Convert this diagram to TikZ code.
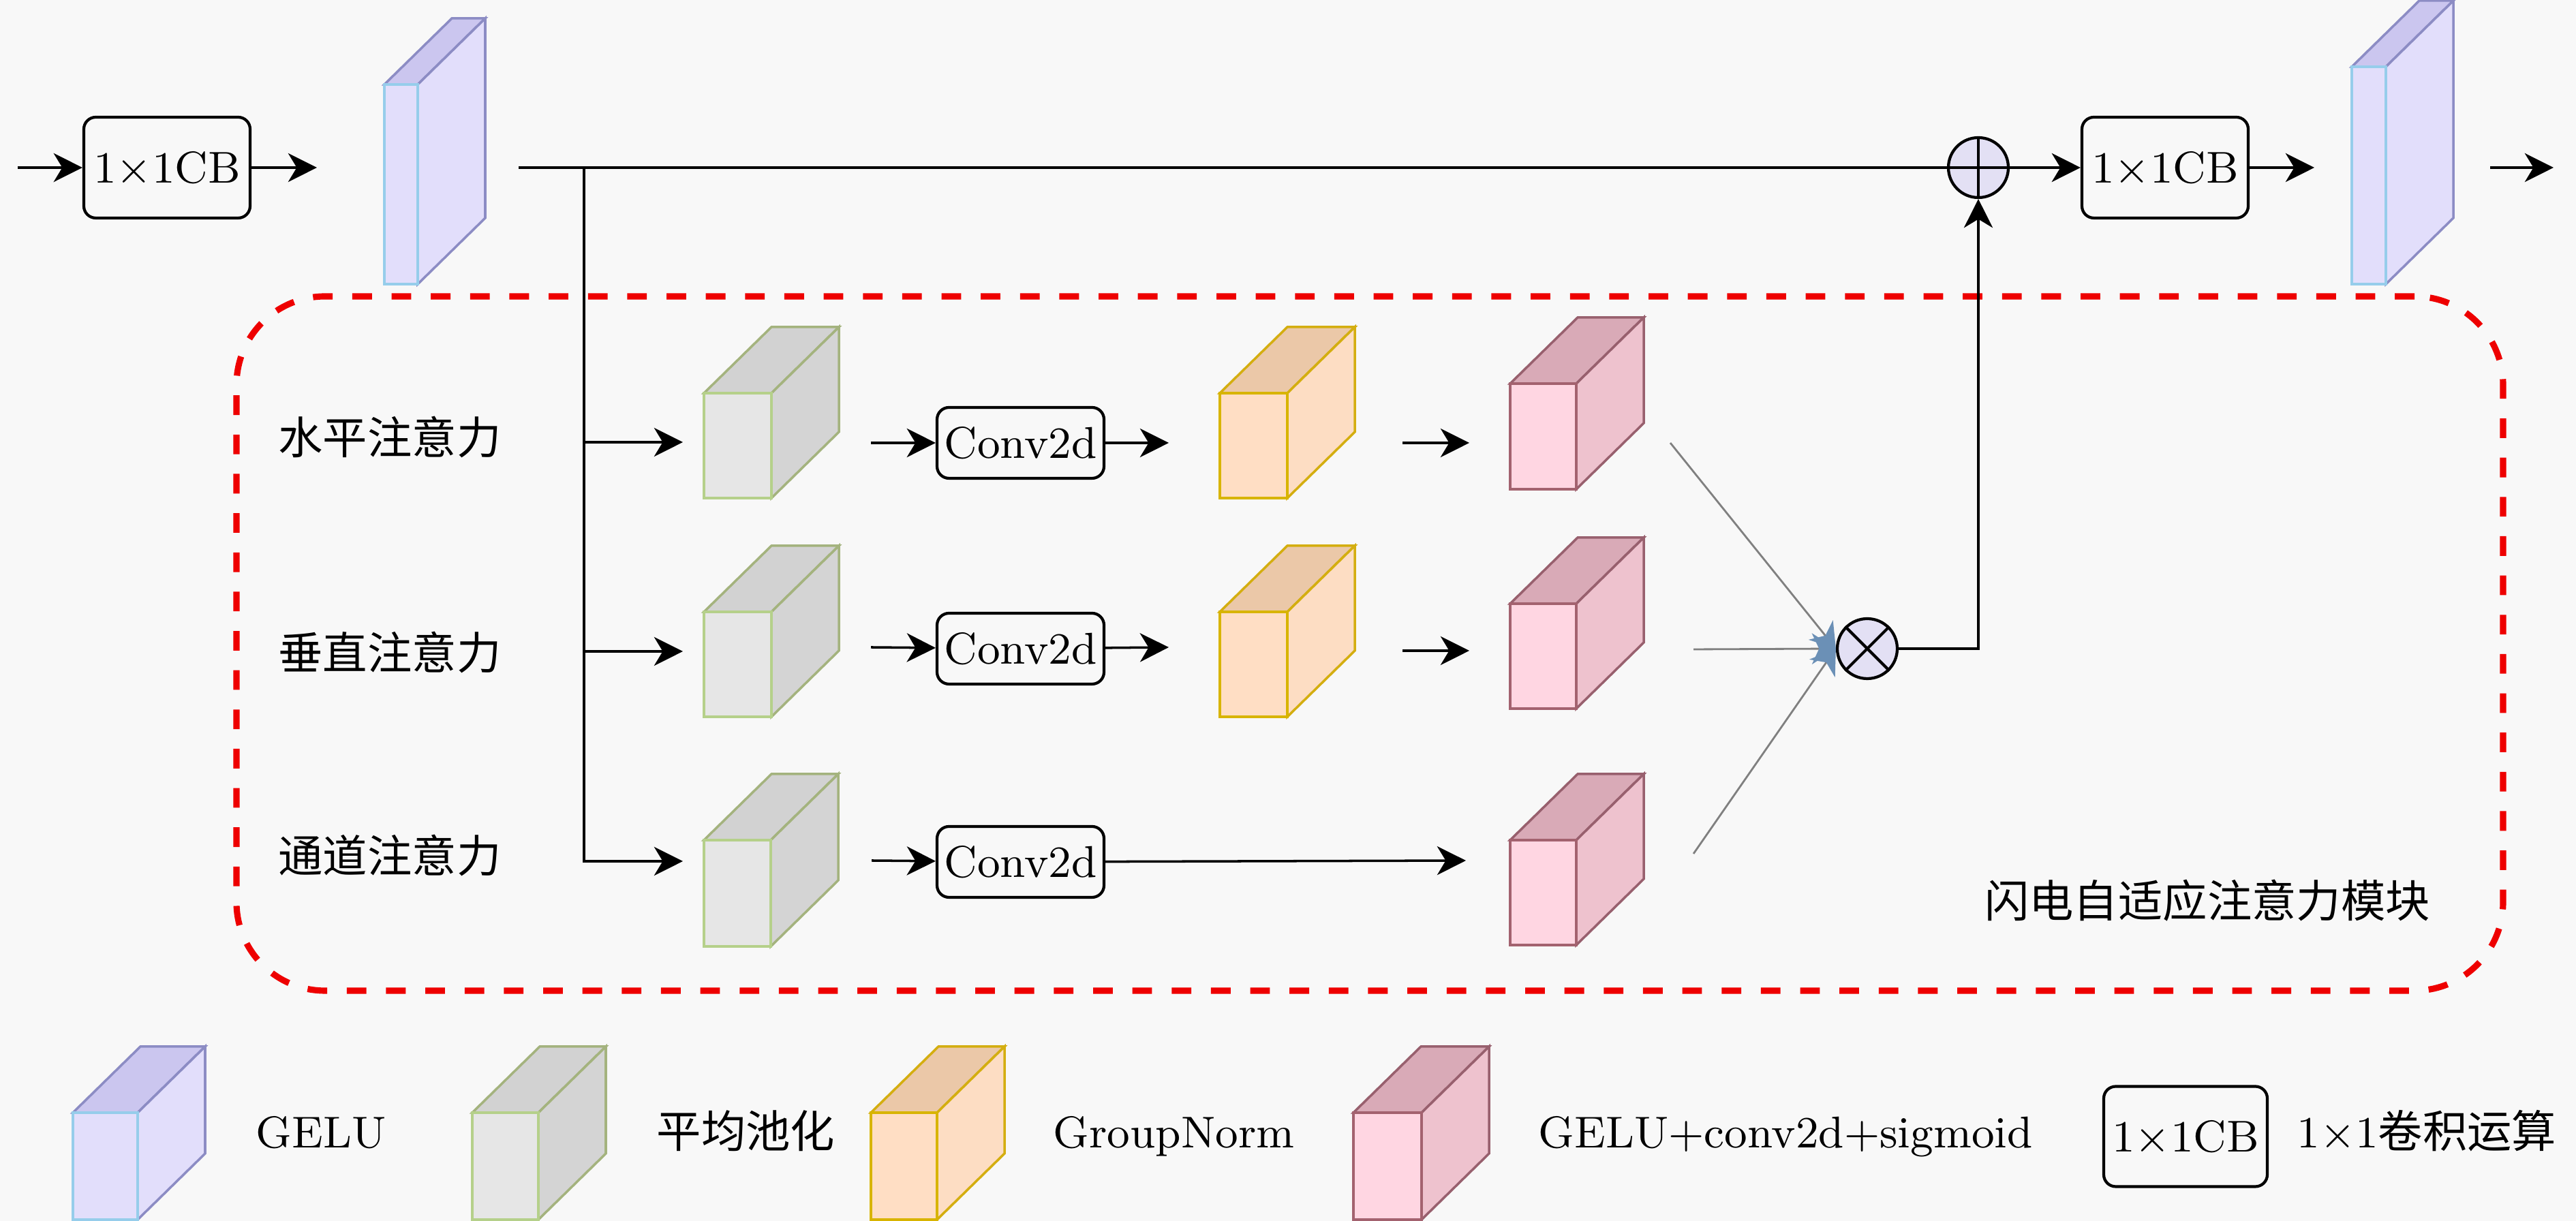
\documentclass[tikz,border=0pt]{standalone}
\usepackage{fontspec}
\newfontfamily\cjk{Noto Sans CJK SC}
\usetikzlibrary{arrows.meta}
\definecolor{bgcol}{HTML}{F8F8F8}
\definecolor{sumfill}{HTML}{E3E0F4}
\definecolor{tipblue}{HTML}{6B90B6}
\definecolor{linegray}{HTML}{808080}
\definecolor{modred}{HTML}{EE0000}
% cube colours: F front, S side, T top, E outer edge, L front edge
\definecolor{geluF}{HTML}{E2DEFB}
\definecolor{geluS}{HTML}{E2DEFB}
\definecolor{geluT}{HTML}{CBC6EF}
\definecolor{geluE}{HTML}{8C8CC4}
\definecolor{geluL}{HTML}{96CDEB}
\definecolor{poolF}{HTML}{E6E6E6}
\definecolor{poolS}{HTML}{D4D4D4}
\definecolor{poolT}{HTML}{D2D2D2}
\definecolor{poolE}{HTML}{A4B37E}
\definecolor{poolL}{HTML}{B5D08A}
\definecolor{gnF}{HTML}{FFDEC4}
\definecolor{gnS}{HTML}{FDDDC3}
\definecolor{gnT}{HTML}{EBC8A8}
\definecolor{gnE}{HTML}{D4AE10}
\definecolor{gnL}{HTML}{D8B400}
\definecolor{actF}{HTML}{FFD6E2}
\definecolor{actS}{HTML}{EEC2CE}
\definecolor{actT}{HTML}{D9AAB7}
\definecolor{actE}{HTML}{98606E}
\definecolor{actL}{HTML}{A3626F}

% feature map: name, front top-left x, y, width, height, colour set
\newcommand{\fmap}[6]{%
  \filldraw[draw=#6E, fill=#6T, line width=0.5pt] (#2,#3) -- ++(0.99,-0.97) -- ++(#4,0) -- ++(-0.99,0.97) -- cycle;
  \filldraw[draw=#6E, fill=#6S, line width=0.5pt] (#2+#4,#3) -- ++(0.99,-0.97) -- ++(0,#5) -- ++(-0.99,0.97) -- cycle;
  \filldraw[draw=#6L, fill=#6F, line width=0.5pt] (#2,#3) rectangle ++(#4,#5);
  \coordinate (#1) at (#2+#4/2,#3+#5/2);
}

\begin{document}
\begin{tikzpicture}[x=5mm, y=-5mm, font=\fontsize{9.3}{11}\selectfont,
  cbbox/.style={draw, rounded corners=2.5pt, line width=0.6pt, minimum width=12.2mm, minimum height=7.4mm, inner sep=0pt},
  convbox/.style={draw, rounded corners=2.5pt, line width=0.6pt, minimum width=12.25mm, minimum height=5.2mm, inner sep=0pt},
  sumnode/.style={draw, circle, line width=0.6pt, fill=sumfill, minimum size=4.4mm, inner sep=0pt},
  modbox/.style={draw=modred, line width=1.3pt, dash pattern=on 4.1pt off 4.1pt, rounded corners=6.5mm, minimum width=166.3mm, minimum height=50.95mm},
  arr/.style={-{Stealth[length=6pt,width=6pt,inset=1.8pt]}, line width=0.5pt},
  garr/.style={-{Stealth[length=5pt,width=6.5pt,inset=1.5pt,color=tipblue]}, draw=linegray, line width=0.4pt},
  cjktext/.style={font=\cjk\fontsize{9.3}{11}\selectfont},
]
\fill[bgcol] (0,0) rectangle (37.80,17.92);
\useasboundingbox (0,0) rectangle (37.80,17.92);

% module frame
\node[modbox] (mod) at (20.10,9.445) {};
\node[cjktext] (modlabel) at (32.39,13.22) {闪电自适应注意力模块};

% main line
\coordinate (in) at (0.26,2.46);
\node[cbbox] (cb1) at (2.45,2.46) {1×1CB};
\coordinate (geluAin) at (4.65,2.46);
\fmap{geluA}{5.64}{1.24}{0.49}{2.93}{gelu}
\coordinate (geluAout) at (7.61,2.46);
\coordinate (split) at (8.57,2.46);
\node[sumnode] (oplus) at (29.03,2.46) {};
\draw[line width=0.6pt] (oplus.north) -- (oplus.south) (oplus.west) -- (oplus.east);
\node[cbbox] (cb2) at (31.77,2.46) {1×1CB};
\coordinate (geluBin) at (33.96,2.46);
\fmap{geluB}{34.51}{0.98}{0.50}{3.19}{gelu}
\coordinate (outA) at (36.54,2.46);
\coordinate (outB) at (37.47,2.46);

\draw[arr] (in) -- (cb1);
\draw[arr] (cb1) -- (geluAin);
\draw[line width=0.5pt] (geluAout) -- (oplus);
\draw[arr] (oplus) -- (cb2);
\draw[arr] (cb2) -- (geluBin);
\draw[arr] (outA) -- (outB);

% branch labels
\node[cjktext] (hlab) at (5.72,6.42) {水平注意力};
\node[cjktext] (vlab) at (5.72,9.58) {垂直注意力};
\node[cjktext] (clab) at (5.72,12.56) {通道注意力};

% row 1
\coordinate (b1) at (8.57,6.49);
\coordinate (g1in) at (10.02,6.49);
\fmap{pool1}{10.33}{5.77}{0.99}{1.54}{pool}
\coordinate (g1out) at (12.78,6.50);
\node[convbox] (conv1) at (14.975,6.50) {Conv2d};
\coordinate (n1in) at (17.15,6.50);
\fmap{gn1}{17.90}{5.77}{0.99}{1.54}{gn}
\coordinate (n1out) at (20.58,6.50);
\coordinate (a1in) at (21.56,6.50);
\fmap{act1}{22.16}{5.63}{0.97}{1.55}{act}
\coordinate (a1out) at (24.51,6.50);

% row 2
\coordinate (b2) at (8.57,9.56);
\coordinate (g2in) at (10.02,9.56);
\fmap{pool2}{10.33}{8.98}{0.99}{1.54}{pool}
\coordinate (g2out) at (12.78,9.50);
\node[convbox] (conv2) at (14.975,9.52) {Conv2d};
\coordinate (n2in) at (17.15,9.50);
\fmap{gn2}{17.90}{8.98}{0.99}{1.54}{gn}
\coordinate (n2out) at (20.58,9.55);
\coordinate (a2in) at (21.56,9.55);
\fmap{act2}{22.16}{8.86}{0.97}{1.54}{act}
\coordinate (a2out) at (24.85,9.53);

% row 3
\coordinate (g3in) at (10.02,12.64);
\fmap{pool3}{10.33}{12.33}{0.98}{1.56}{pool}
\coordinate (g3out) at (12.79,12.63);
\node[convbox] (conv3) at (14.975,12.65) {Conv2d};
\coordinate (a3in) at (21.51,12.63);
\fmap{act3}{22.16}{12.33}{0.97}{1.54}{act}
\coordinate (a3out) at (24.85,12.53);

\node[sumnode] (otimes) at (27.40,9.52) {};
\draw[line width=0.6pt] (otimes.north west) -- (otimes.south east) (otimes.north east) -- (otimes.south west);

\draw[arr] (split) |- (g3in);
\draw[arr] (b1) -- (g1in);
\draw[arr] (b2) -- (g2in);
\draw[arr] (g1out) -- (conv1);
\draw[arr] (conv1) -- (n1in);
\draw[arr] (n1out) -- (a1in);
\draw[arr] (g2out) -- (conv2);
\draw[arr] (conv2) -- (n2in);
\draw[arr] (n2out) -- (a2in);
\draw[arr] (g3out) -- (conv3);
\draw[arr] (conv3) -- (a3in);
\draw[garr] (a1out) -- (otimes.west);
\draw[garr] (a2out) -- (otimes.west);
\draw[garr] (a3out) -- (otimes.west);
\draw[arr] (otimes) -| (oplus);

% legend
\fmap{keygelu}{1.07}{16.33}{0.95}{1.57}{gelu}
\node[anchor=base west] (keygelut) at (3.51,16.85) {GELU};
\fmap{keypool}{6.93}{16.33}{0.97}{1.57}{pool}
\node[cjktext, anchor=base west] (keypoolt) at (9.39,16.85) {平均池化};
\fmap{keygn}{12.78}{16.33}{0.97}{1.57}{gn}
\node[anchor=base west] (keygnt) at (15.21,16.85) {GroupNorm};
\fmap{keyact}{19.86}{16.33}{1.00}{1.57}{act}
\node[anchor=base west] (keyactt) at (22.33,16.85) {GELU+conv2d+sigmoid};
\node[cbbox, minimum width=12.0mm, minimum height=7.35mm] (keycb) at (32.07,16.68) {1×1CB};
\node[anchor=base west, inner sep=0pt] (keycbt) at (33.69,16.85) {1×1{\cjk 卷积运算}};
\end{tikzpicture}
\end{document}
